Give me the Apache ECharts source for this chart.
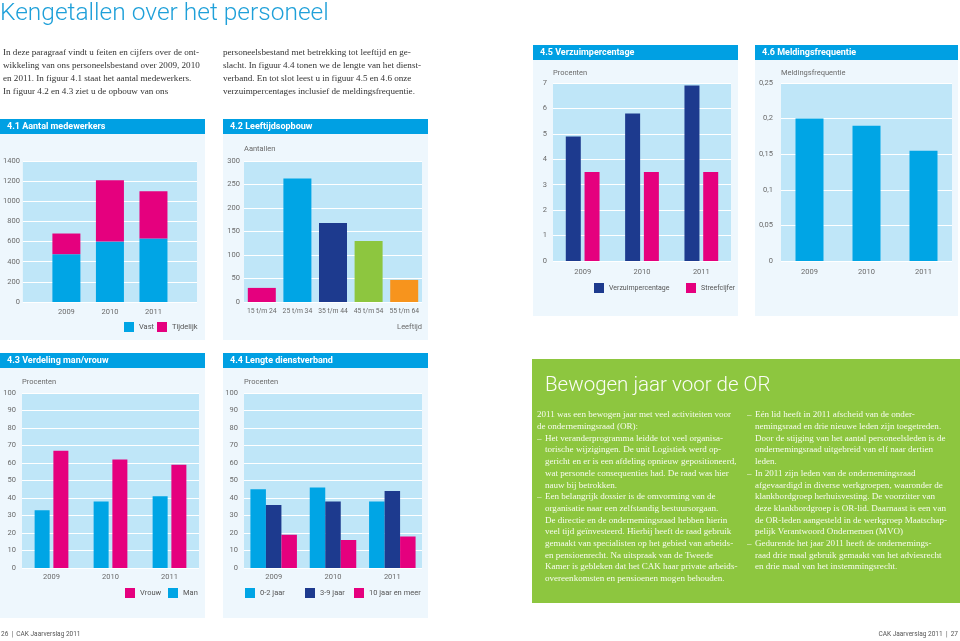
<!DOCTYPE html>
<html>
<head>
<meta charset="utf-8">
<script src="https://cdn.jsdelivr.net/npm/echarts@6/dist/echarts.min.js"></script>
<style>
html,body{margin:0;padding:0;background:#fff;}
#chart{width:960px;height:641px;}
</style>
</head>
<body>
<div id="chart"></div>
<script>
// ---- data ----
const years = ['2009', '2010', '2011'];
const vast = [475, 600, 630];
const tijdelijk = [205, 610, 470];
const ageGroups = ['15 t/m 24', '25 t/m 34', '35 t/m 44', '45 t/m 54', '55 t/m 64'];
const ageCounts = [30, 263, 168, 130, 47];
const verzuim = [4.9, 5.8, 6.9];
const streefcijfer = [3.5, 3.5, 3.5];
const melding = [0.2, 0.19, 0.155];
const man = [33, 38, 41];
const vrouw = [67, 62, 59];
const jaar02 = [45, 46, 38];
const jaar39 = [36, 38, 44];
const jaar10 = [19, 16, 18];

const introCol1 = [
  'In deze paragraaf vindt u feiten en cijfers over de ont-',
  'wikkeling van ons personeelsbestand over 2009, 2010',
  'en 2011. In figuur 4.1 staat het aantal medewerkers.',
  'In figuur 4.2 en 4.3 ziet u de opbouw van ons'
];
const introCol2 = [
  'personeelsbestand met betrekking tot leeftijd en ge-',
  'slacht. In figuur 4.4 tonen we de lengte van het dienst-',
  'verband. En tot slot leest u in figuur 4.5 en 4.6 onze',
  'verzuimpercentages inclusief de meldingsfrequentie.'
];
// [0 plain, 1 dash line, 2 indented continuation, text]
const orCol1 = [
  [0, '2011 was een bewogen jaar met veel activiteiten voor'],
  [0, 'de ondernemingsraad (OR):'],
  [1, 'Het veranderprogramma leidde tot veel organisa-'],
  [2, 'torische wijzigingen. De unit Logistiek werd op-'],
  [2, 'gericht en er is een afdeling opnieuw gepositioneerd,'],
  [2, 'wat personele consequenties had. De raad was hier'],
  [2, 'nauw bij betrokken.'],
  [1, 'Een belangrijk dossier is de omvorming van de'],
  [2, 'organisatie naar een zelfstandig bestuursorgaan.'],
  [2, 'De directie en de ondernemingsraad hebben hierin'],
  [2, 'veel tijd geïnvesteerd. Hierbij heeft de raad gebruik'],
  [2, 'gemaakt van specialisten op het gebied van arbeids-'],
  [2, 'en pensioenrecht. Na uitspraak van de Tweede'],
  [2, 'Kamer is gebleken dat het CAK haar private arbeids-'],
  [2, 'overeenkomsten en pensioenen mogen behouden.']
];
const orCol2 = [
  [1, 'Eén lid heeft in 2011 afscheid van de onder-'],
  [2, 'nemingsraad en drie nieuwe leden zijn toegetreden.'],
  [2, 'Door de stijging van het aantal personeelsleden is de'],
  [2, 'ondernemingsraad uitgebreid van elf naar dertien'],
  [2, 'leden.'],
  [1, 'In 2011 zijn leden van de ondernemingsraad'],
  [2, 'afgevaardigd in diverse werkgroepen, waaronder de'],
  [2, 'klankbordgroep herhuisvesting. De voorzitter van'],
  [2, 'deze klankbordgroep is OR-lid. Daarnaast is een van'],
  [2, 'de OR-leden aangesteld in de werkgroep Maatschap-'],
  [2, 'pelijk Verantwoord Ondernemen (MVO)'],
  [1, 'Gedurende het jaar 2011 heeft de ondernemings-'],
  [2, 'raad drie maal gebruik gemaakt van het adviesrecht'],
  [2, 'en drie maal van het instemmingsrecht.']
];

// ---- styles ----
const C = {
  head: '#00a0e3', panel: '#eef7fd', plot: '#bfe6f8', pink: '#e5007e',
  light: '#00a5e5', dark: '#1d3a8e', green: '#8dc63f', orange: '#f7941d',
  tick: '#6a6a6a', text: '#333', title: '#1fa0d9', or: '#8dc63f'
};
const ageColors = [C.pink, C.light, C.dark, C.green, C.orange];
const SANS = 'Roboto, "Open Sans", sans-serif';
const SERIF = '"Liberation Serif", "DejaVu Serif", serif';
const TICK = 7.5;

const graphics = [];
function rect(x, y, w, h, fill) {
  graphics.push({type: 'rect', silent: true, z: -10, shape: {x, y, width: w, height: h}, style: {fill}});
}
function txt(x, y, text, opt) {
  graphics.push({type: 'text', silent: true, z: 10, x, y, style: Object.assign({
    text, fill: C.text, fontSize: 9, fontFamily: SANS, textVerticalAlign: 'middle', textAlign: 'left'
  }, opt || {})});
}
function panel(x, y, w, hHead, hBody, title) {
  rect(x, y, w, hHead, C.head);
  rect(x, y + hHead, w, hBody, C.panel);
  txt(x + 7, y + hHead / 2 + 0.5, title, {fill: '#fff', fontWeight: 'bold', fontSize: 9});
}

// page title and intro
txt(0, 13.5, 'Kengetallen over het personeel', {fill: C.title, fontSize: 24.5, fontWeight: 300});
introCol1.forEach((l, i) => txt(3, 52.5 + i * 12.9, l, {fontFamily: SERIF, fontSize: 9.1, fill: '#333'}));
introCol2.forEach((l, i) => txt(223, 52.5 + i * 12.9, l, {fontFamily: SERIF, fontSize: 9.1, fill: '#333'}));

// panels
panel(0, 119, 205, 15, 206, '4.1 Aantal medewerkers');
panel(223, 119, 205, 15, 206, '4.2 Leeftijdsopbouw');
panel(533, 45, 205, 15, 256, '4.5 Verzuimpercentage');
panel(755, 45, 203, 15, 256, '4.6 Meldingsfrequentie');
panel(0, 353, 205, 15, 250, '4.3 Verdeling man/vrouw');
panel(223, 353, 205, 15, 250, '4.4 Lengte dienstverband');

// green OR box
rect(532, 359, 428, 244, C.or);
txt(545, 386, 'Bewogen jaar voor de OR', {fill: '#fbfdf6', fontSize: 20.5, fontWeight: 300});
function orColumn(lines, x0) {
  lines.forEach((l, i) => {
    const y = 415 + i * 11.7;
    const st = {fontFamily: SERIF, fontSize: 9.05, fill: '#f6fbee'};
    if (l[0] === 1) txt(x0, y, '–', st);
    txt(l[0] === 0 ? x0 : x0 + 8, y, l[1], st);
  });
}
orColumn(orCol1, 537);
orColumn(orCol2, 747);

// misc labels
txt(422, 327, 'Leeftijd', {fill: C.tick, fontSize: TICK, textAlign: 'right'});
txt(1, 634, '26  |  CAK Jaarverslag 2011', {fill: '#555', fontSize: 6.5});
txt(958, 634, 'CAK Jaarverslag 2011  |  27', {fill: '#555', fontSize: 6.5, textAlign: 'right'});

// ---- chart ----
const grids = [
  {left: 21, top: 161, width: 176, height: 141},
  {left: 244, top: 161, width: 178, height: 141},
  {left: 553, top: 83, width: 178, height: 178},
  {left: 781, top: 83, width: 171, height: 178},
  {left: 22, top: 393, width: 177, height: 175},
  {left: 244, top: 393, width: 178, height: 175}
].map(g => Object.assign({show: true, backgroundColor: C.plot, borderWidth: 0, borderColor: 'transparent'}, g));

function xAx(gi, data, margin, extra, fs) {
  return Object.assign({
    type: 'category', gridIndex: gi, data,
    axisLine: {show: false}, axisTick: {show: false},
    axisLabel: {color: C.tick, fontSize: fs || TICK, fontFamily: SANS, margin, interval: 0}
  }, extra || {});
}
function yAx(gi, max, interval, margin, name, gap, fmt) {
  return {
    type: 'value', gridIndex: gi, min: 0, max, interval,
    name: name || '', nameLocation: 'end', nameGap: gap || 8,
    nameTextStyle: {align: 'left', color: C.tick, fontSize: TICK, fontFamily: SANS},
    axisLine: {show: false}, axisTick: {show: false},
    splitLine: {lineStyle: {color: '#ffffff', width: 1}},
    axisLabel: {color: C.tick, fontSize: TICK, fontFamily: SANS, margin, formatter: fmt || (v => String(v))}
  };
}
const pad = a => [null].concat(a, [null]);

function leg(name, left, top, fs) {
  return {
    orient: 'horizontal', itemWidth: 10, itemHeight: 10, icon: 'rect', itemGap: 0,
    textStyle: {color: '#555', fontSize: fs || TICK, fontFamily: SANS}, selectedMode: false,
    left, top, padding: 0, data: [name]
  };
}

const option = {
  animation: false,
  backgroundColor: '#ffffff',
  textStyle: {fontFamily: SANS},
  grid: grids,
  xAxis: [
    xAx(0, [''].concat(years, ['']), 6, {boundaryGap: false}),
    xAx(1, ageGroups, 6, null, 6.8),
    xAx(2, years, 7),
    xAx(3, years, 7),
    xAx(4, years, 5),
    xAx(5, years, 5)
  ],
  yAxis: [
    yAx(0, 1400, 200, 3),
    yAx(1, 300, 50, 4, 'Aantallen', 8),
    yAx(2, 7, 1, 6, 'Procenten', 6),
    yAx(3, 0.25, 0.05, 8, 'Meldingsfrequentie', 6, v => String(+v.toFixed(2)).replace('.', ',')),
    yAx(4, 100, 10, 6, 'Procenten', 7),
    yAx(5, 100, 10, 6, 'Procenten', 7)
  ],
  legend: [
    leg('Vast', 124, 322), leg('Tijdelijk', 157, 322),
    leg('Verzuimpercentage', 594, 283, 7), leg('Streefcijfer', 686, 283, 7),
    leg('Vrouw', 125, 588), leg('Man', 168, 588),
    leg('0-2 jaar', 245, 588), leg('3-9 jaar', 305, 588), leg('10 jaar en meer', 354, 588)
  ],
  graphic: graphics,
  series: [
    {name: 'Vast', type: 'bar', stack: 'a', xAxisIndex: 0, yAxisIndex: 0, barWidth: 28, data: pad(vast), itemStyle: {color: C.light}},
    {name: 'Tijdelijk', type: 'bar', stack: 'a', xAxisIndex: 0, yAxisIndex: 0, barWidth: 28, data: pad(tijdelijk), itemStyle: {color: C.pink}},
    {name: 'Leeftijd', type: 'bar', xAxisIndex: 1, yAxisIndex: 1, barWidth: 28,
      data: ageCounts.map((v, i) => ({value: v, itemStyle: {color: ageColors[i]}}))},
    {name: 'Verzuimpercentage', type: 'bar', xAxisIndex: 2, yAxisIndex: 2, barWidth: 15, barGap: '25%', data: verzuim, itemStyle: {color: C.dark}},
    {name: 'Streefcijfer', type: 'bar', xAxisIndex: 2, yAxisIndex: 2, barWidth: 15, barGap: '25%', data: streefcijfer, itemStyle: {color: C.pink}},
    {name: 'Meldingsfrequentie', type: 'bar', xAxisIndex: 3, yAxisIndex: 3, barWidth: 28, data: melding, itemStyle: {color: C.light}},
    {name: 'Man', type: 'bar', xAxisIndex: 4, yAxisIndex: 4, barWidth: 15, barGap: '25%', data: man, itemStyle: {color: C.light}},
    {name: 'Vrouw', type: 'bar', xAxisIndex: 4, yAxisIndex: 4, barWidth: 15, barGap: '25%', data: vrouw, itemStyle: {color: C.pink}},
    {name: '0-2 jaar', type: 'bar', xAxisIndex: 5, yAxisIndex: 5, barWidth: 15.5, barGap: '0%', data: jaar02, itemStyle: {color: C.light}},
    {name: '3-9 jaar', type: 'bar', xAxisIndex: 5, yAxisIndex: 5, barWidth: 15.5, barGap: '0%', data: jaar39, itemStyle: {color: C.dark}},
    {name: '10 jaar en meer', type: 'bar', xAxisIndex: 5, yAxisIndex: 5, barWidth: 15.5, barGap: '0%', data: jaar10, itemStyle: {color: C.pink}}
  ]
};
const chart = echarts.init(document.getElementById('chart'), null, {renderer: 'canvas'});
chart.setOption(option);
</script>
</body>
</html>
